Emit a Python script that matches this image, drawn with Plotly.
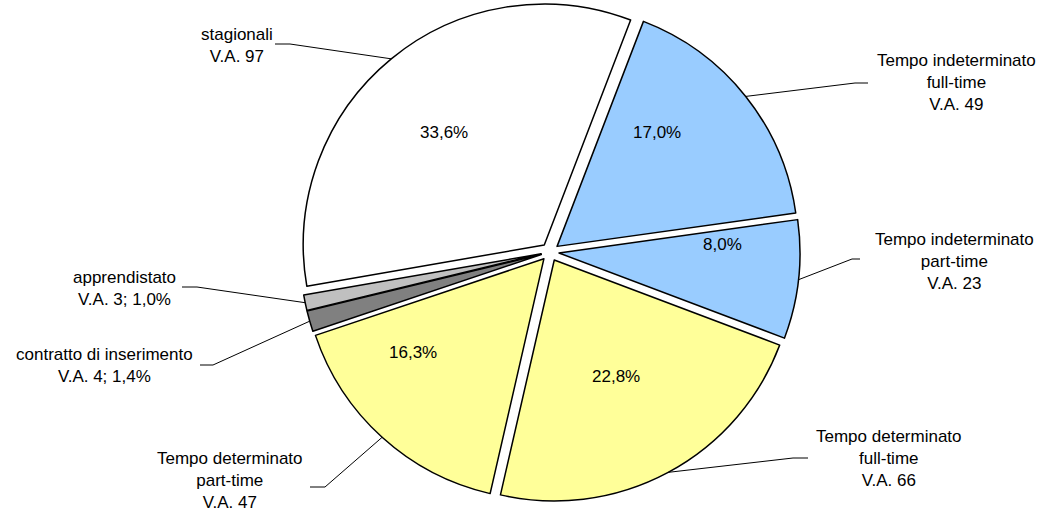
import math
import plotly.graph_objects as go

# ---------------- data ----------------
categories = [
    "Tempo indeterminato full-time",
    "Tempo indeterminato part-time",
    "Tempo determinato full-time",
    "Tempo determinato part-time",
    "contratto di inserimento",
    "apprendistato",
    "stagionali",
]
label_lines = [
    "Tempo indeterminato<br>full-time",
    "Tempo indeterminato<br>part-time",
    "Tempo determinato<br>full-time",
    "Tempo determinato<br>part-time",
    "contratto di inserimento",
    "apprendistato",
    "stagionali",
]
values = [49, 23, 66, 47, 4, 3, 97]
small_slices = ["contratto di inserimento", "apprendistato"]

# ---------------- style / layout ----------------
W, H = 1043, 514
colors = ["#99CCFF", "#99CCFF", "#FFFF99", "#FFFF99", "#808080", "#C0C0C0", "#FFFFFF"]
FONT = "Liberation Sans, Arial, sans-serif"
FS = 17
ROTATION = 21          # degrees clockwise from 12 o'clock
PULL = 0.0375
CX, CY = 550, 252      # pie centre in pixels
R = 241                # pie radius in pixels
HALF = R * (1 + PULL)

# text placements (pixels): percentage label centres and outer label layout
pct_pos = {
    "Tempo indeterminato full-time": (657, 132),
    "Tempo indeterminato part-time": (722, 244),
    "Tempo determinato full-time": (616, 376),
    "Tempo determinato part-time": (413, 352),
    "stagionali": (444, 132),
}
# (text centre x, text centre y, line start x, elbow x, line y)
outer_pos = {
    "Tempo indeterminato full-time": (956, 82, 868, 855, 83),
    "Tempo indeterminato part-time": (954, 261, 860, 852, 259),
    "Tempo determinato full-time": (889, 458, 808, 793, 458),
    "Tempo determinato part-time": (230, 480, 310, 325, 487),
    "contratto di inserimento": (104, 365, 200, 213, 365),
    "apprendistato": (124, 288, 182, 197, 287),
    "stagionali": (237, 45, 275, 290, 44),
}


def px(x):
    return x / W


def py(y):
    return 1 - y / H


total = sum(values)

fig = go.Figure(
    go.Pie(
        labels=categories,
        values=values,
        sort=False,
        direction="clockwise",
        rotation=ROTATION,
        pull=[PULL] * len(values),
        marker=dict(colors=colors, line=dict(color="#000000", width=1.5)),
        textinfo="none",
        hoverinfo="skip",
        showlegend=False,
        domain=dict(
            x=[px(CX) - 0.26, px(CX) + 0.26],
            y=[py(CY) - HALF / H, py(CY) + HALF / H],
        ),
    )
)

annotations = []
shapes = []
cum = 0
for cat, lab, v in zip(categories, label_lines, values):
    pct = 100 * v / total
    pct_txt = f"{pct:.1f}".replace(".", ",") + "%"
    mid = math.radians(ROTATION + 360 * (cum + v / 2) / total)
    cum += v

    # percentage inside slice
    if cat in pct_pos:
        x, y = pct_pos[cat]
        annotations.append(dict(
            x=px(x), y=py(y), xref="paper", yref="paper", text=pct_txt,
            showarrow=False, xanchor="center", yanchor="middle",
            font=dict(family=FONT, size=FS, color="#000000"),
        ))

    # outer label
    txt = f"{lab}<br>V.A. {v}"
    if cat in small_slices:
        txt += f"; {pct_txt}"
    tx, ty, lx0, lx1, ly = outer_pos[cat]
    annotations.append(dict(
        x=px(tx), y=py(ty), xref="paper", yref="paper", text=txt,
        showarrow=False, xanchor="center", yanchor="middle", align="center",
        font=dict(family=FONT, size=FS, color="#000000"),
    ))

    # leader line to the slice edge (mid-angle on pulled slice)
    ex = CX + HALF * math.sin(mid)
    ey = CY - HALF * math.cos(mid)
    shapes.append(dict(
        type="path", xref="paper", yref="paper",
        path=f"M {px(lx0)} {py(ly)} L {px(lx1)} {py(ly)} L {px(ex)} {py(ey)}",
        line=dict(color="#000000", width=1),
    ))

fig.update_layout(
    width=W, height=H,
    margin=dict(l=0, r=0, t=0, b=0),
    paper_bgcolor="#FFFFFF",
    plot_bgcolor="#FFFFFF",
    annotations=annotations,
    shapes=shapes,
)

fig.write_html("out.html")
